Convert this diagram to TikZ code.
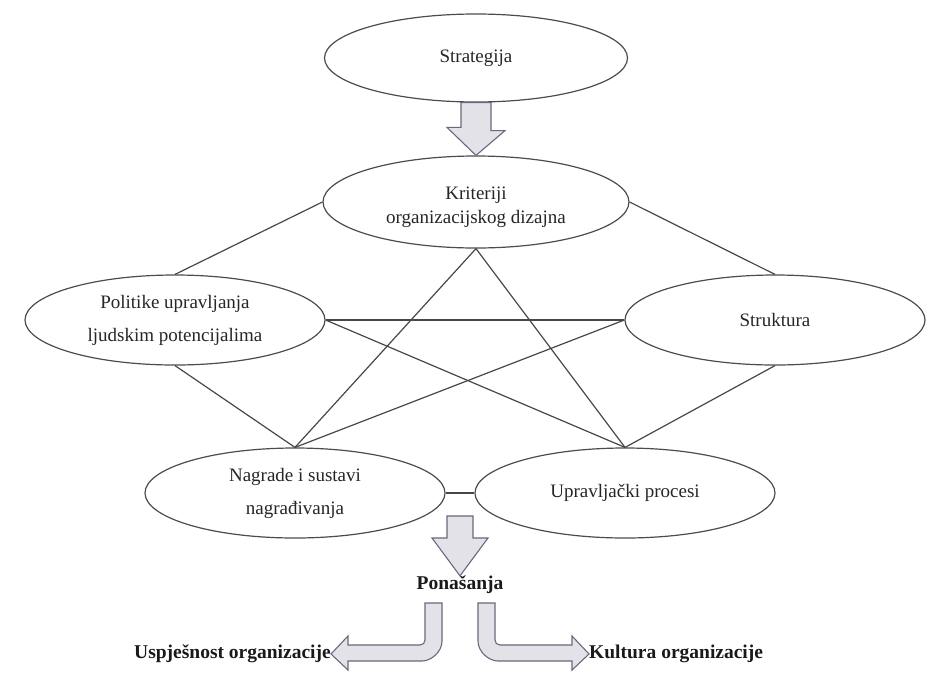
\documentclass[tikz,border=0pt]{standalone}
\usepackage{fontspec}
\setmainfont{LiberationSerif}[Extension=.ttf, UprightFont=*-Regular, BoldFont=*-Bold, ItalicFont=*-Italic, BoldItalicFont=*-BoldItalic]
\usetikzlibrary{shapes}

\begin{document}
\begin{tikzpicture}[x=1pt,y=-1pt]
\tikzstyle{oval}=[
	ellipse,
	draw=black!70,
	line width=1.2pt,
	fill=white,
	inner sep=0pt,
	minimum width=300pt,
	minimum height=90pt,
	align=center,
	text=black!85,
	font=\fontsize{19}{33}\selectfont ]
\tikzstyle{link}=[draw=black!72, line width=1.2pt]
\definecolor{arrowline}{RGB}{105,105,125}
\definecolor{arrowfill}{RGB}{226,226,232}
\tikzstyle{fatarrow}=[draw=arrowline, line width=1.1pt, fill=arrowfill, line join=miter]
\tikzstyle{boldlabel}=[inner sep=0pt, font=\fontsize{19.5}{21}\selectfont\bfseries, text=black!90]
\useasboundingbox (0,0) rectangle (934,681);
\node[oval, minimum width=303pt, minimum height=88pt] (strat) at (476,58) {Strategija};
\node[oval, minimum width=306pt, minimum height=92pt] (krit) at (476,202) {\strut Kriteriji\\[-9pt]organizacijskog dizajna};
\node[oval] (polit) at (175,320) {Politike upravljanja\\ljudskim potencijalima};
\node[oval] (strukt) at (775,320) {Struktura};
\node[oval] (nagr) at (295,493) {Nagrade i sustavi\\nagrađivanja};
\node[oval] (uprav) at (625,493) {Upravljački procesi};
% veze
\path[link] (krit.west) -- (polit.north);
\path[link] (krit.east) -- (strukt.north);
\path[link] (krit.south) -- (nagr.north);
\path[link] (krit.south) -- (uprav.north);
\path[link] (polit.east) -- (strukt.west);
\path[link] (polit.east) -- (uprav.north);
\path[link] (strukt.west) -- (nagr.north);
\path[link] (polit.south) -- (nagr.north);
\path[link] (strukt.south) -- (uprav.north);
\path[link] (nagr.east) -- (uprav.west);
% strelice
\draw[fatarrow] (strat.south) ++(-15,0) -- ++(30,0) -- ++(0,28) -- ++(14,0)
  -- (krit.north) -- ++(-29,-28) -- ++(14,0) -- cycle;
\node[boldlabel] (pon) at (460,585) {Ponašanja};
\draw[fatarrow] (447,516) -- (473,516) -- (473,538) -- (488,538) -- (pon.north)
  -- (432,538) -- (447,538) -- cycle;
\node[boldlabel, anchor=east] (uspj) at (331,654) {Uspješnost organizacije};
\node[boldlabel, anchor=west] (kult) at (589,654) {Kultura organizacije};
\draw[fatarrow] (425,603) -- (442,603) -- (442,641) .. controls (442,652) and (431,661) .. (422,661)
  -- (348,661) -- (348,670) -- (uspj.east) -- (348,636) -- (348,645) -- (420,645)
  .. controls (423,645) and (425,643) .. (425,640) -- cycle;
\draw[fatarrow] (495,603) -- (478,603) -- (478,641) .. controls (478,652) and (489,661) .. (498,661)
  -- (572,661) -- (572,670) -- (kult.west) -- (572,636) -- (572,645) -- (500,645)
  .. controls (497,645) and (495,643) .. (495,640) -- cycle;
\end{tikzpicture}
\end{document}
